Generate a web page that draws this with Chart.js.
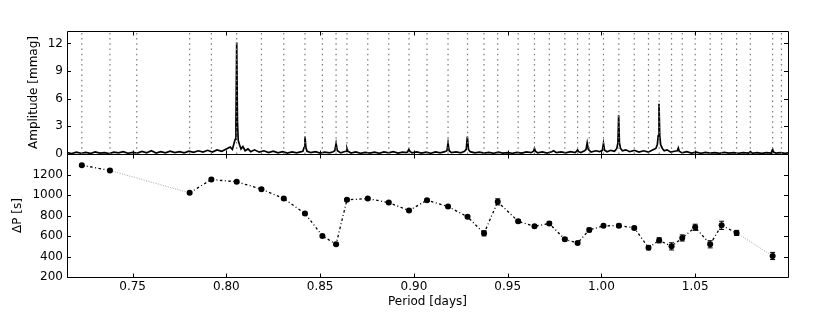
<!DOCTYPE html>
<html lang="en">
<head>
<meta charset="UTF-8">
<title>Period spacing</title>
<script src="https://cdn.jsdelivr.net/npm/chart.js"></script>
<style>
  body { margin: 0; background: #fff; }
</style>
</head>
<body>
<canvas id="grafico" width="830" height="312"></canvas>
<script>
  // periodogram: [period (d), amplitude (mmag)]
  const spectrum = [
    [0.715, 0.15], [0.7175, 0.05], [0.720, 0.20], [0.7225, 0.08], [0.725, 0.18], [0.7275, 0.06],
    [0.730, 0.22], [0.7325, 0.10], [0.735, 0.15], [0.7375, 0.05], [0.740, 0.20], [0.7425, 0.12],
    [0.745, 0.25], [0.7475, 0.08], [0.750, 0.18], [0.7525, 0.10], [0.755, 0.28], [0.7575, 0.12],
    [0.760, 0.35], [0.7625, 0.10], [0.765, 0.25], [0.7675, 0.12], [0.770, 0.30], [0.7725, 0.15],
    [0.775, 0.25], [0.7775, 0.12], [0.780, 0.30], [0.7825, 0.18], [0.785, 0.35], [0.7875, 0.20],
    [0.790, 0.40], [0.7925, 0.22], [0.795, 0.45], [0.7975, 0.30], [0.800, 0.55], [0.802, 0.75],
    [0.8032, 0.50], [0.804, 1.10], [0.8047, 1.60], [0.8051, 3.50], [0.8055, 12.1], [0.8059, 3.50],
    [0.8063, 1.50], [0.807, 1.00], [0.8078, 0.55], [0.8088, 0.80], [0.810, 0.35], [0.8115, 0.55],
    [0.813, 0.25], [0.815, 0.45], [0.8175, 0.20], [0.820, 0.35], [0.8225, 0.15], [0.825, 0.30],
    [0.8275, 0.12], [0.830, 0.25], [0.8325, 0.10], [0.835, 0.22], [0.8375, 0.12], [0.840, 0.25],
    [0.8408, 0.30], [0.8414, 0.70], [0.8419, 1.90], [0.8424, 0.70], [0.843, 0.30], [0.845, 0.15],
    [0.8475, 0.25], [0.850, 0.10], [0.8525, 0.20], [0.855, 0.12], [0.857, 0.25], [0.8578, 0.35],
    [0.8585, 1.15], [0.8592, 0.35], [0.861, 0.12], [0.8628, 0.25], [0.8638, 0.30], [0.8643, 0.60],
    [0.8648, 0.30], [0.8665, 0.10], [0.869, 0.22], [0.8715, 0.08], [0.874, 0.18], [0.8765, 0.10],
    [0.879, 0.20], [0.8815, 0.08], [0.884, 0.22], [0.8865, 0.12], [0.889, 0.25], [0.8915, 0.10],
    [0.894, 0.20], [0.8962, 0.15], [0.8968, 0.30], [0.8973, 0.50], [0.8978, 0.30], [0.899, 0.12],
    [0.9015, 0.22], [0.904, 0.10], [0.9065, 0.20], [0.909, 0.08], [0.9115, 0.22], [0.914, 0.12],
    [0.9165, 0.25], [0.9176, 0.35], [0.9182, 1.20], [0.9188, 0.35], [0.920, 0.15], [0.9225, 0.22],
    [0.925, 0.12], [0.927, 0.30], [0.9279, 0.50], [0.9285, 1.90], [0.9291, 0.50], [0.930, 0.25],
    [0.9325, 0.12], [0.935, 0.20], [0.9375, 0.10], [0.940, 0.18], [0.9425, 0.08], [0.945, 0.20],
    [0.9475, 0.10], [0.950, 0.15], [0.9525, 0.08], [0.955, 0.18], [0.9575, 0.10], [0.960, 0.22],
    [0.9625, 0.15], [0.9638, 0.30], [0.9643, 0.60], [0.9648, 0.30], [0.966, 0.12], [0.9685, 0.22],
    [0.971, 0.10], [0.9735, 0.25], [0.9745, 0.35], [0.976, 0.15], [0.9785, 0.22], [0.981, 0.12],
    [0.9835, 0.25], [0.986, 0.15], [0.9868, 0.30], [0.9873, 0.45], [0.9878, 0.25], [0.989, 0.15],
    [0.991, 0.35], [0.9918, 0.50], [0.9924, 1.20], [0.993, 0.50], [0.9945, 0.20], [0.997, 0.35],
    [0.999, 0.25], [1.0005, 0.40], [1.0011, 1.15], [1.0017, 0.40], [1.003, 0.25], [1.005, 0.40],
    [1.007, 0.30], [1.0082, 0.60], [1.0088, 1.20], [1.0092, 4.20], [1.0096, 1.20], [1.0102, 0.60],
    [1.0112, 0.35], [1.013, 0.45], [1.015, 0.25], [1.0175, 0.40], [1.020, 0.20], [1.0225, 0.35],
    [1.025, 0.20], [1.0275, 0.45], [1.029, 0.60], [1.0298, 1.00], [1.0303, 2.00], [1.0307, 5.45],
    [1.0311, 2.00], [1.0316, 1.00], [1.0325, 0.60], [1.0335, 0.35], [1.035, 0.45], [1.037, 0.20],
    [1.039, 0.30], [1.0405, 0.35], [1.041, 0.65], [1.0415, 0.30], [1.043, 0.12], [1.0455, 0.25],
    [1.048, 0.10], [1.0505, 0.20], [1.053, 0.08], [1.0555, 0.18], [1.058, 0.10], [1.0605, 0.15],
    [1.063, 0.08], [1.0655, 0.18], [1.068, 0.10], [1.0705, 0.15], [1.073, 0.08], [1.0755, 0.15],
    [1.0785, 0.10], [1.0794, 0.25], [1.0805, 0.08], [1.083, 0.15], [1.0855, 0.06], [1.088, 0.15],
    [1.0905, 0.10], [1.0908, 0.25], [1.0913, 0.50], [1.0918, 0.20], [1.093, 0.10], [1.0955, 0.15],
    [1.098, 0.06], [1.0995, 0.12]
  ];

  // modes: period (d), period spacing to the next mode (s) and its error (s)
  const periods = [0.7229, 0.7379, 0.7804, 0.7920, 0.8055, 0.8187, 0.8306, 0.8419, 0.8512, 0.8585,
                   0.8643, 0.8754, 0.8866, 0.8974, 0.9070, 0.9182, 0.9286, 0.9374, 0.9447, 0.9556,
                   0.9643, 0.9722, 0.9805, 0.9873, 0.9935, 1.0011, 1.0093, 1.0175, 1.0251, 1.0308,
                   1.0374, 1.0431, 1.0500, 1.0580, 1.0641, 1.0721, 1.0913];
  const deltaP = [1291, 1239, 1021, 1151, 1129, 1056, 965, 819, 601, 519,
                  953, 965, 926, 848, 949, 887, 787, 626, 933, 744,
                  695, 721, 568, 532, 659, 699, 701, 679, 486, 558,
                  499, 581, 685, 519, 704, 630, 405];
  const deltaPErr = [12, 12, 12, 12, 12, 12, 12, 12, 12, 12,
                     12, 12, 12, 12, 12, 12, 12, 25, 30, 15,
                     15, 18, 15, 15, 18, 15, 15, 15, 20, 25,
                     35, 30, 30, 35, 40, 25, 35];
  // modes seen only as the end of a gap
  const gapModes = [0.7522, 1.0794, 1.0960];

  const xTicks = [0.75, 0.80, 0.85, 0.90, 0.95, 1.00, 1.05];
  const ampTicks = [0, 3, 6, 9, 12];
  const dpTicks = [200, 400, 600, 800, 1000, 1200];
  const ampMax = 13.35;

  Chart.defaults.font.family = 'DejaVu Sans';
  Chart.defaults.font.size = 12;
  Chart.defaults.color = '#000';

  // is the step from mode i to i+1 a gap (next mode not at P + dP)?
  function eGap(i) {
    if (i + 1 >= periods.length) return true;
    return Math.abs(periods[i + 1] - (periods[i] + deltaP[i] / 86400)) > 0.003;
  }

  const modos = periods.concat(gapModes);
  const linhasModos = [];
  modos.forEach(m => {
    linhasModos.push({ x: m, y: 0 }, { x: m, y: ampMax }, { x: m, y: null });
  });

  const moldura = {
    id: 'moldura',
    afterDatasetsDraw(chart) {
      const ctx = chart.ctx;
      const sx = chart.scales.x, amp = chart.scales.amp, dp = chart.scales.dp;
      const L = chart.chartArea.left, R = chart.chartArea.right;
      ctx.save();
      ctx.strokeStyle = '#000';
      ctx.lineWidth = 1;
      ctx.beginPath();
      periods.forEach((p, i) => {
        const px = sx.getPixelForValue(p);
        const y1 = dp.getPixelForValue(deltaP[i] - deltaPErr[i]);
        const y2 = dp.getPixelForValue(deltaP[i] + deltaPErr[i]);
        ctx.moveTo(px, y1); ctx.lineTo(px, y2);
        ctx.moveTo(px - 2.5, y1); ctx.lineTo(px + 2.5, y1);
        ctx.moveTo(px - 2.5, y2); ctx.lineTo(px + 2.5, y2);
      });
      ctx.stroke();

      ctx.beginPath();
      [amp, dp].forEach(s => {
        const top = Math.round(s.top) + 0.5, bot = Math.round(s.bottom) + 0.5;
        ctx.rect(Math.round(L) + 0.5, top, Math.round(R - L), bot - top);
        sx.ticks.forEach(t => {
          const px = Math.round(sx.getPixelForValue(t.value)) + 0.5;
          ctx.moveTo(px, bot); ctx.lineTo(px, bot - 4);
          ctx.moveTo(px, top); ctx.lineTo(px, top + 4);
        });
        s.ticks.forEach(t => {
          const py = Math.round(s.getPixelForValue(t.value)) + 0.5;
          ctx.moveTo(L, py); ctx.lineTo(L + 4, py);
          ctx.moveTo(R, py); ctx.lineTo(R - 4, py);
        });
      });
      ctx.stroke();
      ctx.restore();
    }
  };

  new Chart(document.getElementById('grafico'), {
    type: 'scatter',
    data: {
      datasets: [
        {
          data: linhasModos,
          yAxisID: 'amp',
          showLine: true,
          spanGaps: false,
          borderColor: '#7a7a7a',
          borderWidth: 1.2,
          borderDash: [1.5, 3.7],
          pointRadius: 0
        },
        {
          data: spectrum.map(d => ({ x: d[0], y: d[1] })),
          yAxisID: 'amp',
          showLine: true,
          tension: 0,
          borderColor: '#000',
          borderWidth: 1.7,
          borderJoinStyle: 'miter',
          pointRadius: 0
        },
        {
          data: periods.map((p, i) => ({ x: p, y: deltaP[i] })),
          yAxisID: 'dp',
          showLine: true,
          tension: 0,
          borderColor: '#000',
          borderWidth: 1.3,
          borderDash: [2.5, 2.5, 1, 2.5],
          segment: {
            borderColor: c => eGap(c.p0DataIndex) ? '#9a9a9a' : '#000',
            borderWidth: c => eGap(c.p0DataIndex) ? 0.9 : 1.3,
            borderDash: c => eGap(c.p0DataIndex) ? [1, 1.5] : [2.5, 2.5, 1, 2.5]
          },
          pointRadius: 3,
          pointBackgroundColor: '#000',
          pointBorderWidth: 0
        }
      ]
    },
    options: {
      responsive: false,
      animation: false,
      layout: { padding: { top: 31, right: 42, left: 0, bottom: 0 } },
      plugins: { legend: { display: false }, tooltip: { enabled: false } },
      scales: {
        x: {
          type: 'linear',
          min: 0.715,
          max: 1.0995,
          afterBuildTicks: s => { s.ticks = xTicks.map(v => ({ value: v })); },
          afterFit: s => { s.height = 35; },
          ticks: { padding: 3, autoSkip: false, maxRotation: 0, callback: v => v.toFixed(2) },
          grid: { display: false, drawTicks: false },
          border: { display: false },
          title: { display: true, text: 'Period [days]', padding: { top: 0, bottom: 3 } }
        },
        // bottom panel is listed first: Chart.js stacks the first axis at the bottom
        dp: {
          type: 'linear',
          position: 'left',
          stack: 'paineis',
          stackWeight: 1,
          min: 200,
          max: 1400,
          afterBuildTicks: s => { s.ticks = dpTicks.map(v => ({ value: v })); },
          afterFit: s => { s.width = 67; },
          ticks: { padding: 4, autoSkip: false, callback: v => String(v) },
          grid: { display: false, drawTicks: false },
          border: { display: false },
          title: { display: true, text: 'ΔP [s]', padding: { top: 11, bottom: 0 } }
        },
        amp: {
          type: 'linear',
          position: 'left',
          stack: 'paineis',
          stackWeight: 1,
          min: 0,
          max: ampMax,
          afterBuildTicks: s => { s.ticks = ampTicks.map(v => ({ value: v })); },
          afterFit: s => { s.width = 67; },
          ticks: { padding: 4, autoSkip: false, callback: v => String(v) },
          grid: { display: false, drawTicks: false },
          border: { display: false },
          title: { display: true, text: 'Amplitude [mmag]', padding: { top: 27, bottom: 0 } }
        }
      }
    },
    plugins: [moldura]
  });
</script>
</body>
</html>
